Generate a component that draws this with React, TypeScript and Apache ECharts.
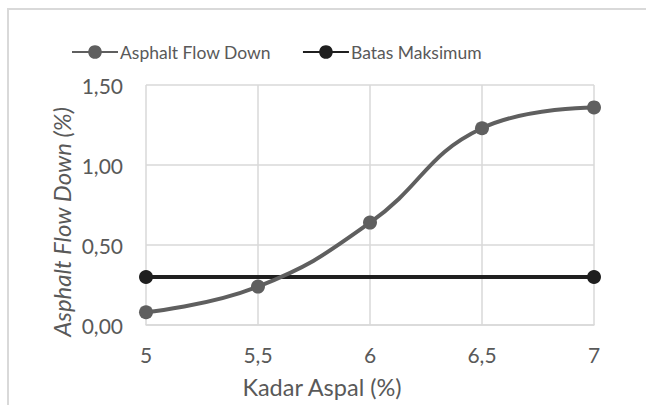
import React, { useEffect, useRef } from "react";
import * as echarts from "echarts";

// Kadar aspal (%) on the x axis
const kadarAspal = [5, 5.5, 6, 6.5, 7];
// Asphalt flow down (%) per kadar aspal
const flowDown = [0.08, 0.24, 0.64, 1.23, 1.36];
// Batas maksimum flow down (%)
const batasX = [5, 7];
const batasMaks = [0.3, 0.3];

const FONT = "Lato";
const TEXT = "#595959";
const GRID = "#d9d9d9";

const fmt = (v: number, digits: number) => v.toFixed(digits).replace(".", ",");

export default function App() {
  const ref = useRef<HTMLDivElement>(null);

  useEffect(() => {
    if (!ref.current) return;
    const chart = echarts.init(ref.current, undefined, { renderer: "svg" });
    chart.setOption({
      animation: false,
      backgroundColor: "#ffffff",
      textStyle: { fontFamily: FONT, color: TEXT },
      grid: { left: 146, right: 52, top: 85, bottom: 80, containLabel: false },
      legend: {
        left: 66,
        top: 38,
        itemWidth: 46,
        itemHeight: 17,
        itemGap: 31,
        textStyle: { fontFamily: FONT, fontSize: 17.5, color: TEXT, padding: [0, 0, 0, -3] },
        data: ["Asphalt Flow Down", "Batas Maksimum"],
      },
      xAxis: {
        type: "value",
        min: 5,
        max: 7,
        interval: 0.5,
        axisLine: { show: true, lineStyle: { color: GRID, width: 1.5 } },
        axisTick: { show: false },
        axisLabel: {
          margin: 19,
          fontSize: 21,
          color: TEXT,
          fontFamily: FONT,
          formatter: (v: number) => String(v).replace(".", ","),
        },
        splitLine: { show: true, lineStyle: { color: GRID, width: 1.5 } },
      },
      yAxis: {
        type: "value",
        min: 0,
        max: 1.5,
        interval: 0.5,
        axisLine: { show: false },
        axisTick: { show: false },
        axisLabel: {
          margin: 23,
          fontSize: 21,
          color: TEXT,
          fontFamily: FONT,
          formatter: (v: number) => fmt(v, 2),
        },
        splitLine: { show: true, lineStyle: { color: GRID, width: 1.5 } },
      },
      graphic: [
        {
          type: "rect",
          silent: true,
          shape: { x: 8, y: 9, width: 700, height: 500 },
          style: { fill: "none", stroke: GRID, lineWidth: 2 },
        },
        {
          type: "text",
          x: 61,
          y: 222,
          rotation: Math.PI / 2,
          style: {
            text: "Asphalt Flow Down (%)",
            fontFamily: FONT,
            fontSize: 24,
            fontStyle: "italic",
            fill: TEXT,
            align: "center",
            verticalAlign: "middle",
          },
        },
        {
          type: "text",
          x: 322,
          y: 387,
          style: {
            text: "Kadar Aspal (%)",
            fontFamily: FONT,
            fontSize: 23.5,
            fill: TEXT,
            align: "center",
            verticalAlign: "middle",
          },
        },
      ],
      series: [
        {
          name: "Asphalt Flow Down",
          type: "line",
          smooth: 0.45,
          symbol: "circle",
          symbolSize: 14,
          lineStyle: { color: "#5f5f5f", width: 4 },
          itemStyle: { color: "#5f5f5f" },
          data: kadarAspal.map((x, i) => [x, flowDown[i]]),
          z: 3,
        },
        {
          name: "Batas Maksimum",
          type: "line",
          symbol: "circle",
          symbolSize: 14,
          lineStyle: { color: "#1f1f1f", width: 4 },
          itemStyle: { color: "#1f1f1f" },
          data: batasX.map((x, i) => [x, batasMaks[i]]),
          z: 2,
        },
      ],
    });
    return () => chart.dispose();
  }, []);

  return (
    <div
      ref={ref}
      style={{ position: "fixed", left: 0, top: 0, width: 646, height: 405 }}
    />
  );
}
